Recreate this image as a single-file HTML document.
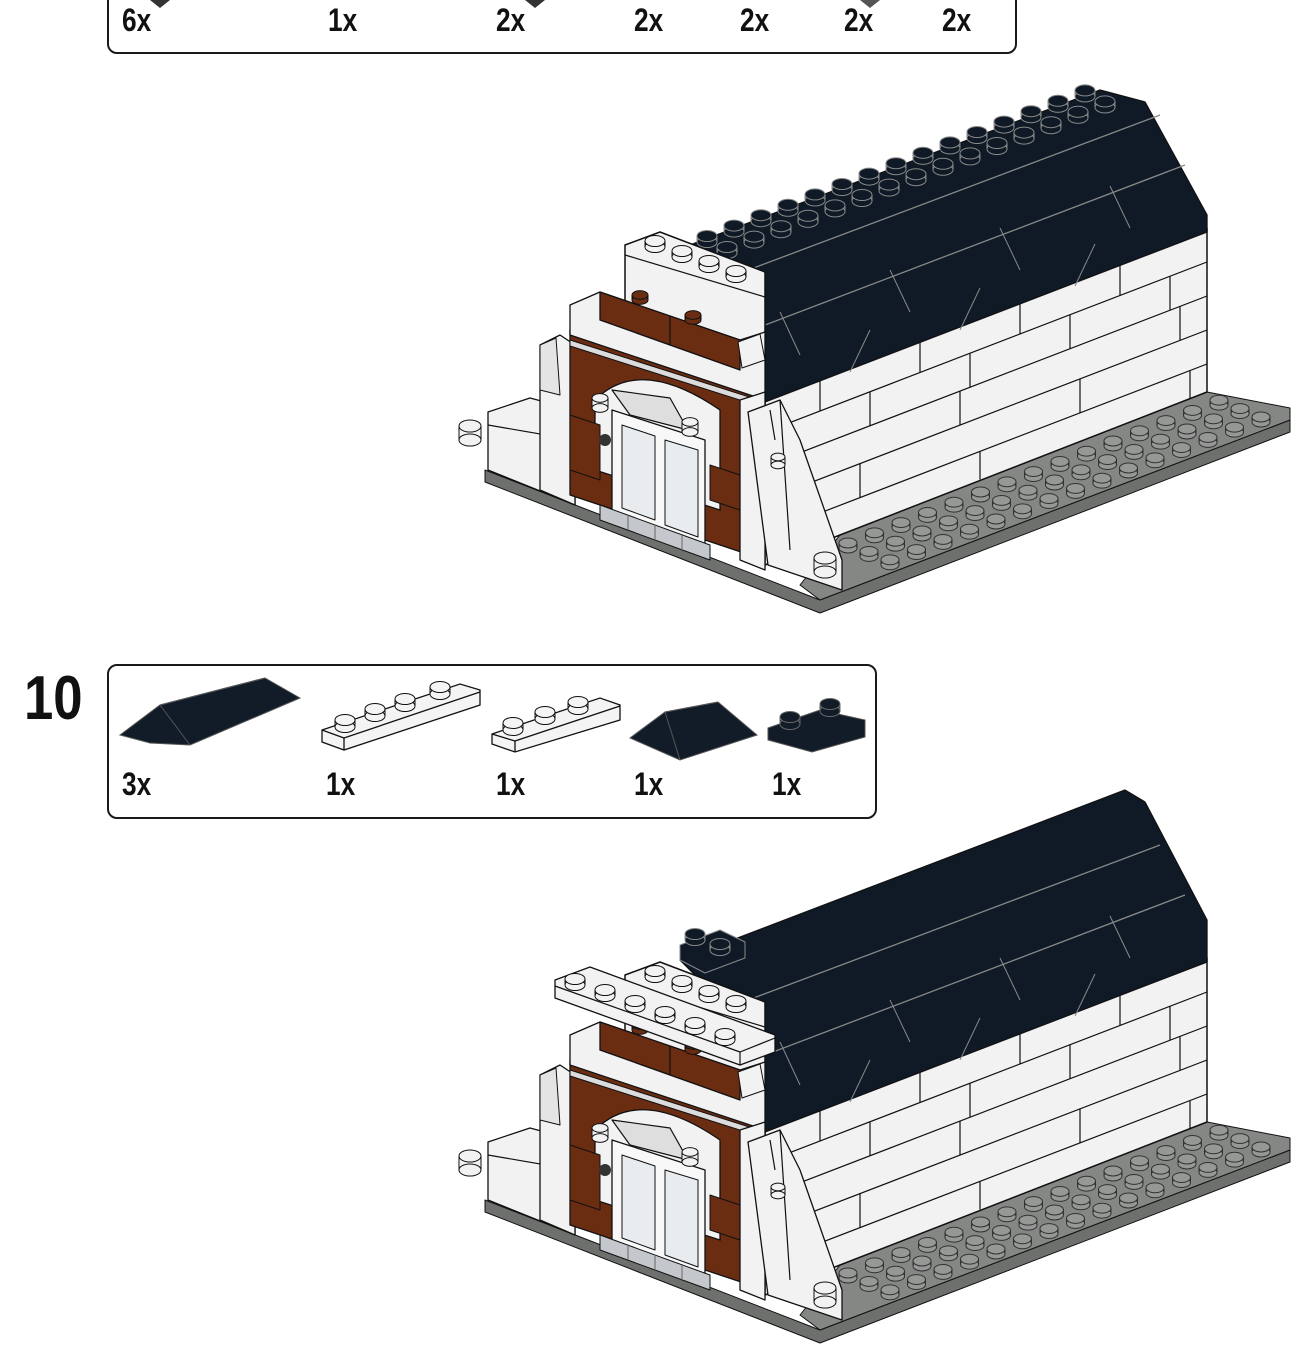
<!DOCTYPE html>
<html><head><meta charset="utf-8">
<style>
html,body{margin:0;padding:0;background:#fff;}
body{width:1311px;height:1362px;overflow:hidden;position:relative;font-family:"Liberation Sans",Arial,sans-serif;}
.lbl{position:absolute;font-weight:bold;font-size:32px;line-height:32px;color:#111;transform:scaleX(0.82);transform-origin:0 0;}
.box{position:absolute;border:2.5px solid #1a1a1a;border-radius:10px;}
</style></head><body>
<div class="box" style="left:107px;top:-20px;width:906px;height:70px;"></div>
<div class="lbl" style="left:122px;top:4px">6x</div>
<div class="lbl" style="left:328px;top:4px">1x</div>
<div class="lbl" style="left:496px;top:4px">2x</div>
<div class="lbl" style="left:634px;top:4px">2x</div>
<div class="lbl" style="left:740px;top:4px">2x</div>
<div class="lbl" style="left:844px;top:4px">2x</div>
<div class="lbl" style="left:942px;top:4px">2x</div>

<div style="position:absolute;left:24px;top:668px;font-weight:bold;font-size:62px;line-height:62px;color:#111;transform:scaleX(0.85);transform-origin:0 0">10</div>
<div class="box" style="left:107px;top:664px;width:766px;height:151px;"></div>
<div class="lbl" style="left:122px;top:768px">3x</div>
<div class="lbl" style="left:326px;top:768px">1x</div>
<div class="lbl" style="left:496px;top:768px">1x</div>
<div class="lbl" style="left:634px;top:768px">1x</div>
<div class="lbl" style="left:772px;top:768px">1x</div>

<svg id="s" width="1311" height="1362" style="position:absolute;left:0;top:0" xmlns="http://www.w3.org/2000/svg">
<path d="M150 0 L170 0 L160 8 Z" fill="#333"/>
<path d="M525 0 L545 0 L535 8 Z" fill="#333"/>
<path d="M860 0 L880 0 L870 8 Z" fill="#555"/>
<g stroke="#555" stroke-width="1">
<polygon points="120,735 160,705 265,678 300,698 190,745 150,743" fill="#111c28"/>
<line x1="160" y1="705" x2="265" y2="678"/><line x1="160" y1="705" x2="190" y2="745"/>
<polygon points="630,738 665,712 718,702 757,735 680,760" fill="#111c28"/>
<line x1="665" y1="712" x2="718" y2="702"/><line x1="665" y1="712" x2="680" y2="760"/>
<polygon points="768,728 820,710 865,720 865,737 812,752 768,740" fill="#111c28"/>
</g>
<g stroke="#111" stroke-width="1.3">
<polygon points="322,730 460,684 480,690 480,705 344,750 322,742" fill="#f4f4f4"/>
<line x1="322" y1="730" x2="344" y2="738"/><line x1="344" y1="738" x2="480" y2="692"/><line x1="344" y1="738" x2="344" y2="750"/>
<polygon points="492,734 600,698 620,705 620,720 515,752 492,744" fill="#f4f4f4"/>
<line x1="492" y1="734" x2="515" y2="741"/><line x1="515" y1="741" x2="620" y2="706"/><line x1="515" y1="741" x2="515" y2="752"/>
</g>
<g id="partstuds"></g>
<g id="b1"></g>
<g id="b2" transform="translate(0,730)"></g>
</svg>
<script>
var NS="http://www.w3.org/2000/svg";
function el(p,t,a){var e=document.createElementNS(NS,t);for(var k in a)e.setAttribute(k,a[k]);p.appendChild(e);return e;}
function poly(p,pts,fill,sw,st){return el(p,"polygon",{points:pts,fill:fill,stroke:st||"#111","stroke-width":sw==null?1.3:sw,"stroke-linejoin":"round"});}
function line(p,x1,y1,x2,y2,st,w){el(p,"line",{x1:x1,y1:y1,x2:x2,y2:y2,stroke:st||"#111","stroke-width":w||1.2});}
function stud(p,x,y,r,fill,st,h){h=h||5;
 el(p,"rect",{x:x-r,y:y-h,width:2*r,height:h,fill:fill});
 el(p,"ellipse",{cx:x,cy:y,rx:r,ry:r*0.55,fill:fill,stroke:st,"stroke-width":1});
 line(p,x-r,y-h,x-r,y,st,1);line(p,x+r,y-h,x+r,y,st,1);
 el(p,"ellipse",{cx:x,cy:y-h,rx:r,ry:r*0.55,fill:fill,stroke:st,"stroke-width":1});}
var ps=document.getElementById("partstuds");
[[345,727],[375,716],[405,706],[440,694]].forEach(function(c){stud(ps,c[0],c[1],10,"#f4f4f4","#111",7);});
[[513,730],[545,719],[578,709]].forEach(function(c){stud(ps,c[0],c[1],10,"#f4f4f4","#111",7);});
[[790,724],[830,711]].forEach(function(c){stud(ps,c[0],c[1],10,"#111c28","#666",7);});

function building(g,step10){
 var W="#f2f2f2",R="#0f1a26",B="#6b2d12";
 poly(g,"485,470 820,600 1290,420 1290,432 820,613 485,482","#6e706e",1);
 poly(g,"840,535 1207,392 1290,408 1290,420 820,600 800,585","#858785",1);
 for(var i=0;i<18;i++)for(var j=0;j<4;j++){
   var x=848+i*26.5+j*21,y=548-i*10.2+j*8.4;
   var edge=600-(x-820)*0.383;
   if(x>1280||y>edge-4)continue;
   if(x>1207&&y<392+(x-1207)*0.19+6)continue;
   stud(g,x,y,9,"#969896","#333",5);}
 poly(g,"765,398 1207,228 1207,392 840,535 765,565",W,1.5);
 var rows=[262,296,330,364];
 rows.forEach(function(r){var y0=r+(1207-765)*0.385;line(g,765,y0,1207,r);});
 var cs=[[228,262,[820,920,1020,1120]],[262,296,[870,970,1070,1170]],[296,330,[960,1180]],[330,364,[860,1080]],[364,392,[980,1190]]];
 cs.forEach(function(c){c[2].forEach(function(x){var d=(1207-x)*0.385;line(g,x,c[0]+d,x,c[1]+d);});});
 if(!step10){
  poly(g,"690,245 1100,90 1145,102 1207,215 1207,232 765,402 745,300",R,1.3);
 } else {
  poly(g,"680,230 1125,60 1145,72 1207,190 1207,232 765,402 730,280",R,1.3);
 }
 line(g,752,330,1185,165,"#888",1.3);line(g,735,275,1160,115,"#888",1.3);
 [[850,372,870,330],[960,330,980,288],[1075,286,1095,244],[800,355,780,312],[910,312,890,270],[1020,270,1000,228],[1130,228,1110,186]].forEach(function(a){line(g,a[0],a[1],a[2],a[3],"#888",1);});
 if(!step10){
  for(var i=0;i<15;i++)for(var j=0;j<2;j++){
   var x=707+i*27+j*20,y=242-i*10.4+j*11;
   stud(g,x,y,10,"#0f1a26","#888",6);}
 } else {
  poly(g,"680,215 720,200 745,212 745,228 705,243 680,230",R,1,"#888");
  stud(g,695,210,10,"#0f1a26","#888",6);stud(g,720,220,10,"#0f1a26","#888",6);
 }
 poly(g,"625,245 660,232 765,272 765,380 625,330",W,1.5);
 line(g,625,255,765,297);
 for(var k=0;k<4;k++)stud(g,655+k*27,247+k*10,10,W,"#111",6);
 poly(g,"488,412 530,398 575,410 575,505 488,470",W);
 line(g,488,425,575,440);
 stud(g,470,440,11,W,"#111",14);
 poly(g,"540,345 560,335 575,345 575,505 540,490",W);
 poly(g,"540,345 556,338 560,395 540,390","#e4e4e4",1);
 poly(g,"570,330 765,395 765,560 570,495",B,1.3);
 poly(g,"570,305 600,292 740,340 765,332 765,400 570,335",W,1.3);
 poly(g,"600,292 740,340 740,370 600,320",B,1.3);
 line(g,670,316,670,345);
 stud(g,640,300,8,B,"#111",5);stud(g,693,320,8,B,"#111",5);
 poly(g,"570,340 765,402 765,408 570,346","#dcdcdc",1);
 el(g,"path",{d:"M595,400 Q640,355 720,410 L720,510 L595,470 Z",fill:W,stroke:"#111","stroke-width":1.3});
 poly(g,"570,415 600,425 600,480 570,470",B,1);
 poly(g,"710,465 740,475 740,510 710,500",B,1);
 poly(g,"612,410 705,440 705,548 612,515","#f8f8f8",1.3);
 poly(g,"622,425 655,436 655,520 622,508","#e8ecee",1);
 poly(g,"665,440 698,450 698,537 665,525","#e8ecee",1);
 poly(g,"612,390 670,398 688,430 630,415","#dedede",1.2);
 stud(g,600,408,8,W,"#111",10);stud(g,690,432,8,W,"#111",10);
 el(g,"circle",{cx:605,cy:440,r:6,fill:"#333"});
 poly(g,"600,505 710,545 710,560 600,520","#c4c8cc",1);
 line(g,628,515,628,530,"#666",1);line(g,655,525,655,540,"#666",1);line(g,682,535,682,550,"#666",1);
 poly(g,"740,400 765,392 765,570 740,560",W);
 poly(g,"738,342 760,334 765,360 742,368",W,1);
 poly(g,"748,412 780,400 800,440 842,560 842,590 768,565",W,1.3);
 line(g,780,400,790,550);line(g,770,410,775,440);
 stud(g,778,465,7,W,"#111",8);
 stud(g,825,572,11,W,"#111",14);
 if(step10){
  poly(g,"555,250 590,237 775,305 775,322 740,335 555,268",W,1.3);
  line(g,555,256,740,322);line(g,740,322,775,308);line(g,740,322,740,335);
  for(var k=0;k<6;k++)stud(g,575+k*30,255+k*11,10,W,"#111",6);
 }
}
building(document.getElementById("b1"),false);
building(document.getElementById("b2"),true);
</script>
</body></html>
